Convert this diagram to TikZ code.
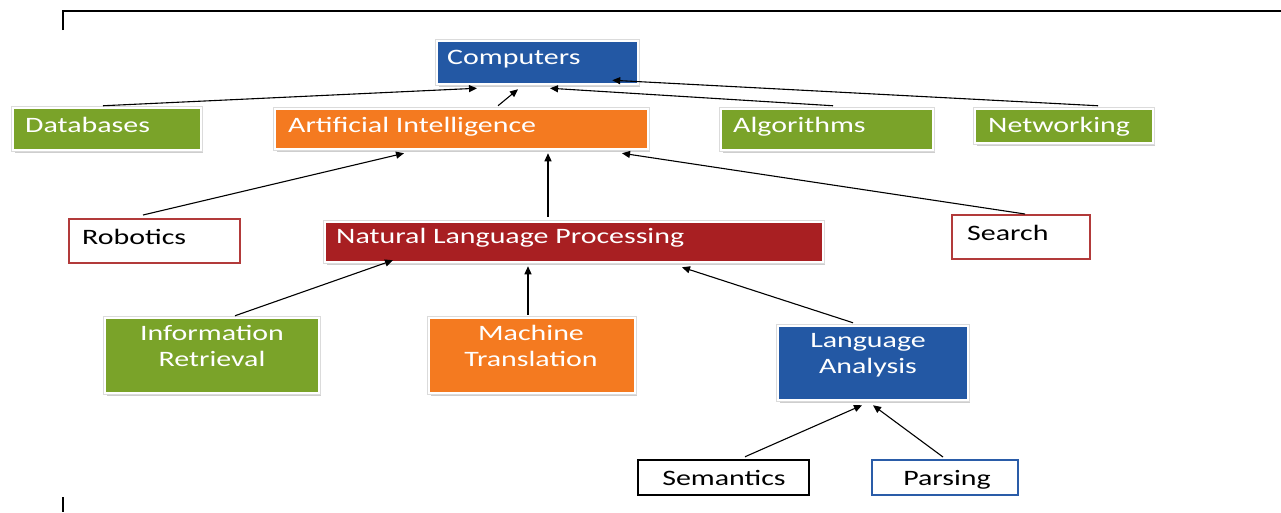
\documentclass[tikz,border=0pt]{standalone}
\usepackage{fontspec}
\setmainfont{Carlito}[FakeStretch=1.36]
\usetikzlibrary{arrows.meta,shadows}
\definecolor{cblue}{HTML}{2358A4}
\definecolor{cgreen}{HTML}{7AA329}
\definecolor{corange}{HTML}{F47A20}
\definecolor{cred}{HTML}{A81F22}
\definecolor{cedge}{HTML}{B23A3A}
\definecolor{cpedge}{HTML}{2A5CA8}
\begin{document}
\begin{tikzpicture}[x=1pt,y=-1pt,
  fillbox/.style={rectangle,inner sep=0pt,draw=white,line width=2.5pt,
    drop shadow={shadow xshift=1.5pt,shadow yshift=-2.5pt,opacity=0.35,fill=black!55},
    preaction={draw=black!14,line width=3.8pt}},
  linebox/.style={rectangle,inner sep=0pt,fill=white,line width=2pt},
  txt/.style={inner sep=0pt,font=\fontsize{22}{26}\selectfont},
  ltxt/.style={txt,anchor=base west,text=white},
  ctxt/.style={txt,anchor=base,align=center,text=white},
  arr/.style={draw=black,line width=1.1pt,-{Triangle[length=8pt,width=7pt]}}]
\useasboundingbox (0,0) rectangle (1281,512);

% frame edges
\draw[line width=2pt] (63,30) -- (63,11) -- (1281,11);
\draw[line width=2pt] (63,497) -- (63,512);

% top row
\node[fillbox,fill=cblue,minimum width=201pt,minimum height=43pt] (comp) at (537.5,62.5) {};
\node[ltxt] (comp-t) at (447,64) {Computers};
\node[fillbox,fill=cgreen,minimum width=188pt,minimum height=42pt] (db) at (107,129) {};
\node[ltxt] (db-t) at (25,132) {Databases};
\node[fillbox,fill=corange,minimum width=373pt,minimum height=40pt] (ai) at (461.5,129) {};
\node[ltxt] (ai-t) at (288,132) {Artificial Intelligence};
\node[fillbox,fill=cgreen,minimum width=212pt,minimum height=41pt] (alg) at (827,129.5) {};
\node[ltxt] (alg-t) at (733,132) {Algorithms};
\node[fillbox,fill=cgreen,minimum width=178pt,minimum height=34pt] (net) at (1064,126) {};
\node[ltxt] (net-t) at (988,132) {Networking};

% second row
\node[linebox,draw=cedge,minimum width=171pt,minimum height=44pt] (rob) at (154.5,241) {};
\node[ltxt,text=black] (rob-t) at (82,244) {Robotics};
\node[fillbox,fill=cred,minimum width=498pt,minimum height=40pt] (nlp) at (574,242) {};
\node[ltxt] (nlp-t) at (336,243) {Natural Language Processing};
\node[linebox,draw=cedge,minimum width=138pt,minimum height=44pt] (srch) at (1021,237) {};
\node[ltxt,text=black] (srch-t) at (967,240) {Search};

% third row
\node[fillbox,fill=cgreen,minimum width=214pt,minimum height=75pt] (ir) at (212,355.5) {};
\node[ctxt] (ir-t) at (212,366) {Information\\Retrieval};
\node[fillbox,fill=corange,minimum width=206pt,minimum height=75pt] (mt) at (532,355.5) {};
\node[ctxt] (mt-t) at (531,366) {Machine\\Translation};
\node[fillbox,fill=cblue,minimum width=190pt,minimum height=74pt] (la) at (873,363) {};
\node[ctxt] (la-t) at (868,373) {Language\\Analysis};

% bottom row
\node[linebox,draw=black,line width=2.5pt,minimum width=171pt,minimum height=35pt] (sem) at (723.5,477.5) {};
\node[txt,anchor=base] (sem-t) at (724,485) {Semantics};
\node[linebox,draw=cpedge,minimum width=146pt,minimum height=35pt] (par) at (945,477.5) {};
\node[txt,anchor=base] (par-t) at (947,485) {Parsing};

% connectors
\draw[arr] ([xshift=-4pt,yshift=1pt]db.north) -- ([xshift=-60.5pt,yshift=-3pt]comp.south);
\draw[arr] ([xshift=36.5pt,yshift=2pt]ai.north) -- ([xshift=-19.5pt,yshift=-4pt]comp.south);
\draw[arr] ([xshift=6pt,yshift=2pt]alg.north) -- ([xshift=12.5pt,yshift=-3pt]comp.south);
\draw[arr] ([xshift=34pt,yshift=2pt]net.north) -- ([xshift=-27pt,yshift=5pt]comp.south east);
\draw[arr] ([xshift=-11.5pt,yshift=3pt]rob.north) -- ([xshift=-57.5pt,yshift=-3pt]ai.south);
\draw[arr] ([xshift=-26pt,yshift=4pt]nlp.north) -- ([xshift=86.5pt,yshift=-3pt]ai.south);
\draw[arr] ([xshift=4pt]srch.north) -- ([xshift=160.5pt,yshift=-3pt]ai.south);
\draw[arr] ([xshift=23pt,yshift=1pt]ir.north) -- ([xshift=-181pt,yshift=3pt]nlp.south);
\draw[arr] ([xshift=-4pt,yshift=2pt]mt.north) -- ([xshift=-46pt,yshift=-3pt]nlp.south);
\draw[arr] ([xshift=-20pt,yshift=2pt]la.north) -- ([xshift=108pt,yshift=-4pt]nlp.south);
\draw[arr] ([xshift=21.5pt,yshift=2pt]sem.north) -- ([xshift=-11pt,yshift=-4pt]la.south);
\draw[arr] ([xshift=-2pt,yshift=2pt]par.north) -- ([xshift=0pt,yshift=-4pt]la.south);
\end{tikzpicture}
\end{document}
